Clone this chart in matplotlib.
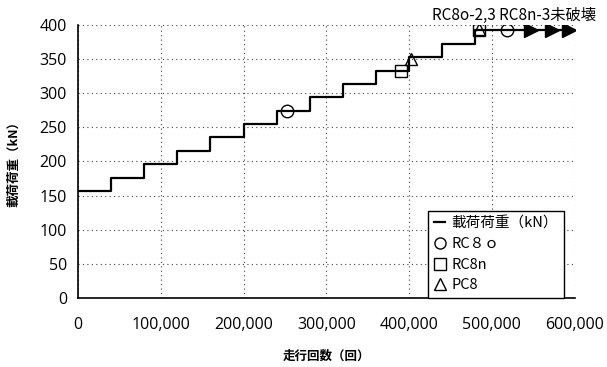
import numpy as np
import matplotlib
matplotlib.use("Agg")
import matplotlib.pyplot as plt
from matplotlib.lines import Line2D

plt.rcParams["font.family"] = ["Noto Sans CJK JP", "DejaVu Sans"]

# load steps (kN) applied every 40,000 passes
cycles = [0, 40000, 80000, 120000, 160000, 200000, 240000, 280000,
          320000, 360000, 400000, 440000, 480000, 600000]
loads = [156.8, 176.4, 196.0, 215.6, 235.2, 254.8, 274.4, 294.0,
         313.6, 333.2, 352.8, 372.4, 392.0, 392.0]

rc8o_x = [253000, 518000]
rc8o_y = [274, 392]
rc8n_x = [390000, 484000]
rc8n_y = [333, 392]
pc8_x = [402000, 484000]
pc8_y = [350, 394]

arrow_x = [548000, 573000, 593000]
arrow_y = [392, 392, 392]

note = "RC8o-2,3 RC8n-3未破壊"

fig = plt.figure(figsize=(6.07, 3.67), dpi=100)
ax = fig.add_axes([0.1285, 0.188, 0.818, 0.744])

ax.step(cycles, loads, where="post", color="black", lw=1.6, zorder=3)
ax.plot(arrow_x, arrow_y, ls="none", marker=">", ms=10, color="black", zorder=4)

mk = dict(ls="none", mfc="none", mec="black", mew=1.0, ms=9, zorder=5)
ax.plot(rc8o_x, rc8o_y, marker="o", **mk)
ax.plot(rc8n_x, rc8n_y, marker="s", **mk)
ax.plot(pc8_x, pc8_y, marker="^", **mk)

ax.set_xlim(0, 600000)
ax.set_ylim(0, 400)
ax.set_xticks(np.arange(0, 600001, 100000))
ax.set_yticks(np.arange(0, 401, 50))
ax.set_xticklabels([f"{int(v):,}" for v in ax.get_xticks()])
ax.tick_params(length=0)
for lab in ax.get_xticklabels() + ax.get_yticklabels():
    lab.set_family(["Open Sans", "DejaVu Sans"])
    lab.set_fontsize(11.5)
ax.tick_params(axis="x", pad=14)
ax.tick_params(axis="y", pad=8)

ax.grid(True, color="#444444", ls=(0, (1, 3)), lw=0.8)
for s in ["top", "right"]:
    ax.spines[s].set_visible(False)
ax.spines["left"].set_linewidth(1.2)
ax.spines["bottom"].set_linewidth(1.2)

ax.set_xlabel("走行回数（回）", fontsize=9, fontweight="bold", labelpad=12)
ax.set_ylabel("載荷荷重（kN）", fontsize=9, fontweight="bold", labelpad=14)

ax.text(626000, 402, note, ha="right", va="bottom", fontsize=11, clip_on=False)

lmk = dict(mk, ms=8)
handles = [
    Line2D([], [], color="black", lw=1.6),
    Line2D([], [], marker="o", **lmk),
    Line2D([], [], marker="s", **lmk),
    Line2D([], [], marker="^", **lmk),
]
labels = ["載荷荷重（kN）", "RC８ｏ", "RC8n", "PC8"]
leg = ax.legend(handles, labels, loc="lower right", bbox_to_anchor=(0.978, 0.0),
                borderaxespad=0, fontsize=10.5, handlelength=0.8,
                handletextpad=0.4, fancybox=False, framealpha=1,
                edgecolor="black", borderpad=0.4, labelspacing=0.45)
leg.get_frame().set_linewidth(1.0)

fig.savefig("out.png", dpi=100)
